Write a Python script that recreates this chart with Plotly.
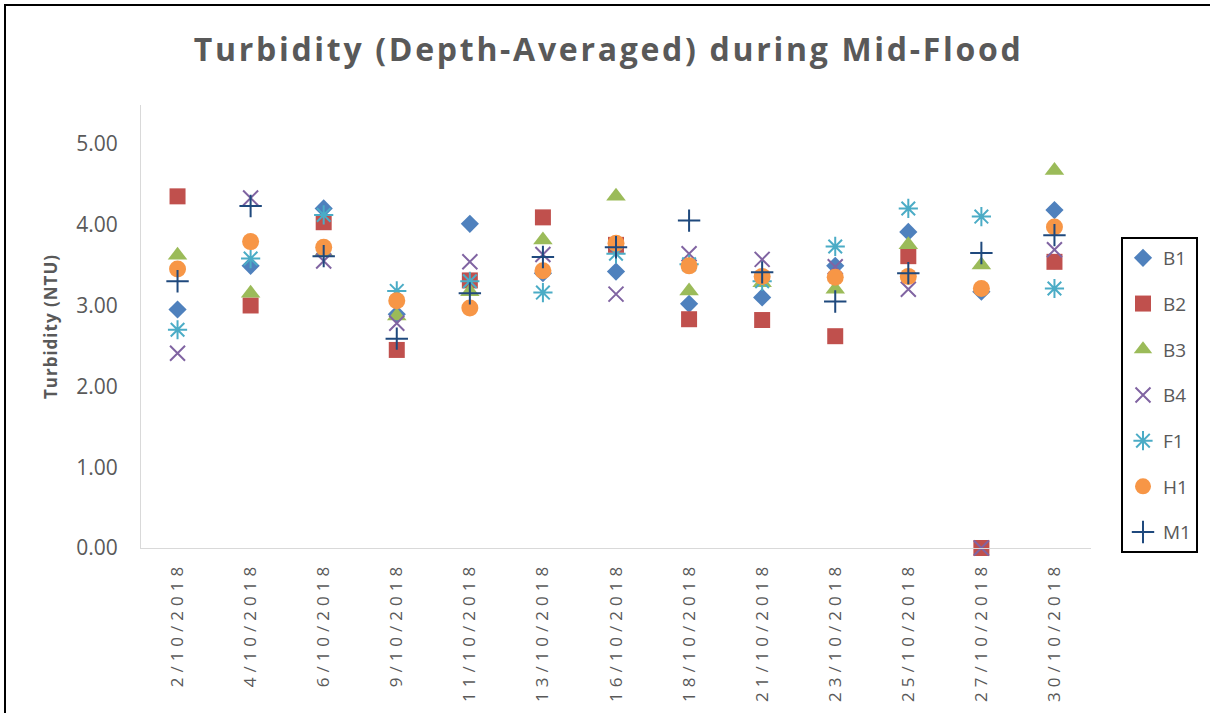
import plotly.graph_objects as go

dates = ["2/10/2018", "4/10/2018", "6/10/2018", "9/10/2018", "11/10/2018",
         "13/10/2018", "16/10/2018", "18/10/2018", "21/10/2018", "23/10/2018",
         "25/10/2018", "27/10/2018", "30/10/2018"]

B1 = [2.95, 3.49, 4.20, 2.89, 4.01, 3.40, 3.42, 3.02, 3.10, 3.49, 3.91, 3.17, 4.18]
B2 = [4.35, 3.00, 4.03, 2.45, 3.31, 4.09, 3.75, 2.83, 2.82, 2.62, 3.61, 0.00, 3.54]
B3 = [3.62, 3.15, 3.66, 2.87, 3.17, 3.81, 4.35, 3.18, 3.28, 3.20, 3.75, 3.50, 4.67]
B4 = [2.41, 4.33, 3.55, 2.78, 3.54, 3.63, 3.14, 3.64, 3.57, 3.48, 3.20, 0.00, 3.69]
F1 = [2.70, 3.58, 4.12, 3.18, 3.30, 3.16, 3.64, 3.51, 3.30, 3.73, 4.20, 4.10, 3.21]
H1 = [3.45, 3.79, 3.72, 3.06, 2.97, 3.43, 3.77, 3.49, 3.36, 3.35, 3.36, 3.21, 3.97]
M1 = [3.30, 4.23, 3.61, 2.59, 3.15, 3.60, 3.72, 4.05, 3.41, 3.05, 3.40, 3.65, 3.87]

y_ticks = [0, 1, 2, 3, 4, 5]
y_ticktext = ["0.00", "1.00", "2.00", "3.00", "4.00", "5.00"]

series = [
    ("B1", B1, "diamond", "#4F81BD", 14, 0),
    ("B2", B2, "square", "#C0504D", 16, 0),
    ("B3", B3, "triangle-up", "#9BBB59", 17, 0),
    ("B4", B4, "x-thin-open", "#8064A2", 15, 2),
    ("F1", F1, "asterisk-open", "#4BACC6", 16, 2),
    ("H1", H1, "circle", "#F79646", 17, 0),
    ("M1", M1, "cross-thin-open", "#1F497D", 16, 2),
]

fig = go.Figure()
for name, vals, sym, col, size, lw in series:
    marker = dict(symbol=sym, color=col, size=size)
    if lw:
        marker["line"] = dict(color=col, width=lw)
    else:
        marker["line"] = dict(width=0)
    fig.add_trace(go.Scatter(
        x=dates, y=vals, mode="markers", name=name, marker=marker,
        legendgroup=name, cliponaxis=False,
    ))

W, H = 1210, 713
L, R, T, B = 141, 1091, 105, 548
def px_x(p):
    return (p - L) / (R - L)
def px_y(p):
    return (B - p) / (B - T)

gray = "#595959"
fig.update_layout(
    width=W, height=H,
    margin=dict(l=L, r=W - R, t=T, b=H - B),
    paper_bgcolor="white", plot_bgcolor="white",
    font=dict(family="Open Sans", color=gray),
    title=dict(text="<b>Turbidity (Depth-Averaged) during Mid-Flood</b>",
               font=dict(size=32, color=gray, family="Open Sans"),
               x=0.503, xref="container", xanchor="center",
               y=1 - 50 / H, yref="container", yanchor="middle"),
    showlegend=True,
    legend=dict(x=px_x(1121), y=px_y(237), xanchor="left", yanchor="top",
                bordercolor="black", borderwidth=2, bgcolor="white",
                font=dict(size=19, color=gray, family="Open Sans"),
                tracegroupgap=18, traceorder="grouped"),
    shapes=[
        dict(type="line", xref="paper", yref="paper",
             x0=px_x(4), x1=px_x(1400), y0=px_y(5), y1=px_y(5),
             line=dict(color="black", width=2), layer="below"),
        dict(type="line", xref="paper", yref="paper",
             x0=px_x(5), x1=px_x(5), y0=px_y(4), y1=px_y(900),
             line=dict(color="black", width=2), layer="below"),
        dict(type="rect", xref="paper", yref="paper",
             x0=px_x(1202), x1=px_x(1230), y0=px_y(900), y1=px_y(7),
             fillcolor="white", line=dict(width=0), layer="above"),
    ],
)
fig.update_xaxes(type="category", showline=True, linecolor="#D9D9D9", linewidth=1,
                 showgrid=False, zeroline=False, ticks="", tickangle=-90,
                 tickfont=dict(size=17, color=gray, family="Open Sans"),
                 ticklabelstandoff=6, range=[-0.5, len(dates) - 0.5])
fig.update_yaxes(range=[0, 5.48], showline=True, linecolor="#D9D9D9", linewidth=1,
                 showgrid=False, zeroline=False, ticks="",
                 tickvals=y_ticks, ticktext=y_ticktext,
                 tickfont=dict(size=21, color=gray, family="Open Sans"),
                 ticklabelstandoff=18,
                 title=dict(text="<b>Turbidity (NTU)</b>",
                            font=dict(size=17, color=gray, family="Open Sans"),
                            standoff=14))

post = """
document.documentElement.style.margin = '0';
document.documentElement.style.overflow = 'hidden';
document.body.style.margin = '0';
document.body.style.overflow = 'hidden';
var gd = document.getElementById('{plot_id}');
function sp(){
  gd.querySelectorAll('.xtick text').forEach(function(t){t.style.letterSpacing='5px';});
  var tt = gd.querySelector('.gtitle'); if (tt) tt.style.letterSpacing='2.7px';
  var yt = gd.querySelector('.ytitle'); if (yt) yt.style.letterSpacing='1px';
}
sp();
gd.on('plotly_afterplot', sp);
"""
fig.write_html("out.html", post_script=post, config={"displayModeBar": False})
